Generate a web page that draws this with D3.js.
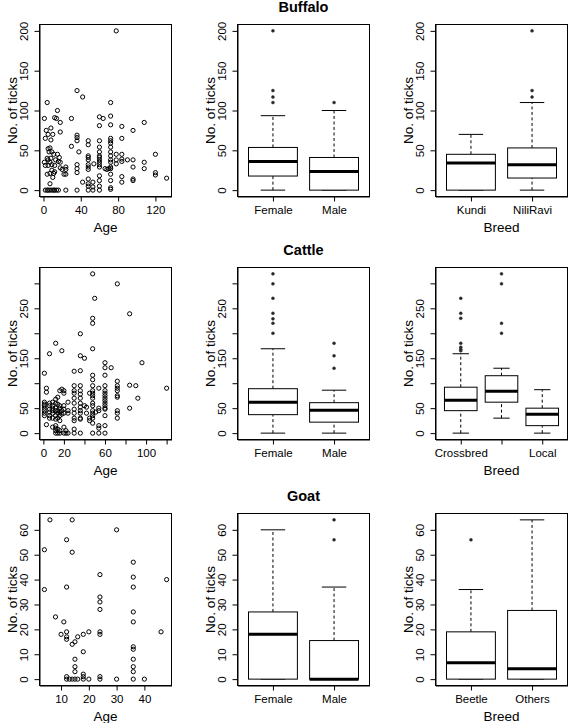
<!DOCTYPE html>
<html><head><meta charset="utf-8">
<script src="https://cdn.jsdelivr.net/npm/d3@7"></script>
<style>
body{margin:0;background:#fff}
svg{display:block}
text{font-family:"Liberation Sans",Arial,Helvetica,sans-serif;fill:#000}
</style>
</head><body>
<svg id="chart" width="568" height="723"></svg>
<script>
// ---------------- DATA ----------------
const species = ["Buffalo", "Cattle", "Goat"];
const yAxisTitle = "No. of ticks";
const ageTitle = "Age";
const breedTitle = "Breed";

// scatter: [age, number of ticks]
const buffaloPoints = [
  [4,110],[15,100],[12,91],[14,90],[1,90],[18,85],[8,78],[3,75],[18,73],[5,70],[10,70],[2,65],[8,63],
  [30,55],[5,52],[7,53],[6,48],[9,48],[38,48],[11,45],[15,45],[4,40],[5,38],[8,40],[13,38],[17,41],
  [1,35],[7,35],[16,36],[18,35],[2,31],[5,31],[9,32],[12,31],[18,28],[24,29],[20,26],[24,26],[9,25],
  [12,23],[4,20],[7,21],[11,21],[22,20],[24,20],[10,16],[7,8],
  [2,0],[4,0],[5,0],[7,0],[9,0],[11,0],[12,0],[14,0],[16,0],[24,0],
  [30,90],[36,125],[36,69],[36,66],[36,62],[36,32],[36,27],[36,22],[36,0],
  [42,117],[42,10],
  [48,62],[48,57],[48,43],[48,41],[48,38],[48,32],[48,29],[48,26],[48,14],[48,8],[48,5],[48,0],
  [53,10],[53,4],[53,0],[54,33],
  [60,92],[60,81],[60,62],[60,54],[60,48],[60,43],[60,41],[60,38],[60,35],[60,32],[60,29],[60,18],[60,12],[60,5],[60,0],
  [64,90],[66,27],[68,26],
  [72,110],[72,93],[72,82],[72,65],[72,62],[72,59],[72,54],[72,48],[72,43],[72,38],[72,35],[72,29],[72,27],[72,20],[72,12],[72,3],[72,1],[70,27],
  [78,200],[78,45],[78,38],[78,33],
  [84,80],[84,65],[84,45],[84,39],[84,36],[84,17],[84,10],
  [90,38],
  [96,75],[96,38],[96,29],[96,14],[96,12],
  [108,85],[108,35],[108,27],
  [120,45],[120,22],[120,19],
  [132,15]
];

const cattlePoints = [
  [1,120],[1,62],[1,58],[1,55],[1,50],[1,45],[1,40],[1,35],
  [3,90],[3,82],[3,17],
  [6,159],[6,60],[6,55],[6,48],[6,42],[6,35],[6,30],
  [9,62],[9,55],[9,50],[9,45],[9,40],[9,30],[9,12],
  [12,180],[12,68],[12,60],[12,50],[12,45],[12,35],[12,28],[12,15],[12,10],[12,5],[12,0],
  [14,72],[14,58],[14,45],[14,40],[14,30],[14,8],[14,0],
  [16,85],[16,55],[16,50],[16,42],[16,35],[16,25],[16,5],[16,0],
  [18,165],[18,88],[18,45],[18,38],
  [20,85],[20,80],[20,55],[20,48],[20,40],[20,12],[20,0],
  [22,0],[22,5],
  [24,62],[24,45],[24,40],[24,0],
  [30,124],[30,95],[30,85],[30,80],[30,70],[30,60],[30,48],[30,40],[30,30],[30,25],[30,8],[30,0],
  [36,199],[36,155],[36,125],[36,95],[36,85],[36,78],[36,70],[36,60],[36,52],[36,45],[36,40],[36,30],[36,28],[36,0],
  [40,150],[40,55],[42,52],[42,40],[45,80],[45,30],[45,25],
  [48,319],[48,230],[48,220],[48,169],[48,116],[48,107],[48,95],[48,85],[48,80],[48,75],[48,70],[48,60],[48,55],[48,45],[48,40],[48,35],[48,30],[48,20],[48,0],
  [50,270],[51,42],
  [54,90],[54,50],[54,45],[54,15],[54,10],[54,0],
  [60,141],[60,131],[60,116],[60,95],[60,85],[60,80],[60,75],[60,70],[60,65],[60,60],[60,55],[60,50],[60,48],[60,35],[60,15],[60,0],
  [66,131],
  [72,299],[72,104],[72,95],[72,90],[72,85],[72,75],[72,72],[72,45],[72,40],[72,30],
  [84,239],[84,96],[84,50],[90,95],[92,70],[96,141],[120,90]
];

const goatPoints = [
  [4,52],[4,36],[6,64],[8,25],[10,18],[11,23],
  [12,56],[12,37],[12,19],[12,17],[12,16],[12,1],[12,0],[13,0],
  [14,64],[14,51],[14,14],[14,0],[15,0],[15,15],[15,8],[15,5],[15,3],
  [16,0],[16,17],[18,18],[18,11],[18,2],[18,1],[18,0],[20,19],[20,0],
  [24,42],[24,33],[24,31],[24,28],[24,19],[24,18],[24,1],[24,0],
  [30,60],[30,0],
  [36,47],[36,41],[36,37],[36,27],[36,23],[36,13],[36,12],[36,8],[36,5],[36,3],[36,0],
  [40,0],[46,19],[48,40]
];

// box plot groups and five-number summaries [lower whisker, Q1, median, Q3, upper whisker]
const sexGroups = ["Female", "Male"];
const buffaloBreeds = ["Kundi", "NiliRavi"];
const cattleBreedLabels = ["Crossbred", "", "Local"];   // middle label not printed (overlap)
const goatBreeds = ["Beetle", "Others"];

const buffaloSexStats = [[0,17.7,36,53.6,93.5],[0,0,23.5,41,100]];
const buffaloSexOutliers = [[110,117,125,200],[110]];
const buffaloBreedStats = [[0,0,34,45,70],[0,15.2,32,53,110]];
const buffaloBreedOutliers = [[],[117,125,200]];

const cattleSexStats = [[0,37,62,89,169],[0,22,46,61,86]];
const cattleSexOutliers = [[200,220,229,240,270,299,319],[130,155,180]];
const cattleBreedStats = [[0,45,66,92,159],[30,62,84,115,130],[0,15,38,50,87]];
const cattleBreedOutliers = [[165,168,172,180,230,240,270],[200,220,299,319],[]];

const goatSexStats = [[0,0,18,27,60],[0,0,0,15.5,37]];
const goatSexOutliers = [[],[56,64]];
const goatBreedStats = [[0,0,6.6,19,36],[0,0,4.2,27.6,64]];
const goatBreedOutliers = [[56],[]];

// axis ticks
const buffaloYTicks = [0,50,100,150,200];
const buffaloYLabels = ["0","50","100","150","200"];
const buffaloXTicks = [0,40,80,120];
const buffaloXLabels = ["0","40","80","120"];
const cattleYTicks = [0,50,100,150,200,250,300];
const cattleYLabels = ["0","50","","150","","250",""];
const cattleXTicks = [0,20,40,60,80,100,120];
const cattleXLabels = ["0","20","","60","","100",""];
const goatYTicks = [0,10,20,30,40,50,60];
const goatYLabels = ["0","10","20","30","40","50","60"];
const goatXTicks = [10,20,30,40];
const goatXLabels = ["10","20","30","40"];

// ---------------- LAYOUT ----------------
const colLeft = [39.5, 237.5, 435.5];
const rowTop = [24.5, 267.5, 513.5];
const plotW = 132, plotH = 172;
const tickFont = "11.5px", labFont = "13.5px", titleFont = "14.5px";

const svg = d3.select("#chart");

function pad(lo, hi){ const d = (hi - lo) * 0.04; return [lo - d, hi + d]; }

function frame(r, c, x, y, xTicks, xLabels, yTicks, yLabels, xTitle){
  const g = svg.append("g").attr("transform", `translate(${colLeft[c]},${rowTop[r]})`);
  const ax = g.append("g").attr("transform", `translate(0,${plotH})`)
    .call(d3.axisBottom(x).tickValues(xTicks).tickFormat((d,i)=>xLabels[i]).tickSizeInner(5).tickSizeOuter(0).tickPadding(3));
  ax.selectAll("text").attr("font-size", tickFont).attr("dy", null).attr("y", 17);
  ax.selectAll("line, path").attr("stroke", "#000");
  ax.attr("font-size", null).attr("font-family", null);
  const ay = g.append("g")
    .call(d3.axisLeft(y).tickValues(yTicks).tickFormat((d,i)=>yLabels[i]).tickSizeInner(5).tickSizeOuter(0));
  ay.selectAll("text").attr("font-size", tickFont).attr("dy", null).attr("x", 0).attr("y", -12)
    .attr("text-anchor", "middle").attr("transform", "rotate(-90)");
  ay.selectAll("line, path").attr("stroke", "#000");
  ay.attr("font-size", null).attr("font-family", null);
  g.append("rect").attr("x", 0).attr("y", 0).attr("width", plotW).attr("height", plotH)
    .attr("fill", "none").attr("stroke", "#000").attr("stroke-width", 1);
  g.append("text").attr("transform", `translate(-23,${plotH/2}) rotate(-90)`)
    .attr("text-anchor", "middle").attr("font-size", labFont).text(yAxisTitle);
  if (xTitle) {
    g.append("text").attr("x", plotW/2).attr("y", plotH + 35)
      .attr("text-anchor", "middle").attr("font-size", labFont).text(xTitle);
  }
  return g;
}

function scatter(r, points, xTicks, xLabels, yTicks, yLabels){
  const x = d3.scaleLinear().domain(pad(d3.min(points, d=>d[0]), d3.max(points, d=>d[0]))).range([0, plotW]);
  const y = d3.scaleLinear().domain(pad(d3.min(points, d=>d[1]), d3.max(points, d=>d[1]))).range([plotH, 0]);
  const g = frame(r, 0, x, y, xTicks, xLabels, yTicks, yLabels, ageTitle);
  g.append("g").selectAll("circle").data(points).join("circle")
    .attr("cx", d=>x(d[0])).attr("cy", d=>y(d[1])).attr("r", 2.1)
    .attr("fill", "none").attr("stroke", "#000").attr("stroke-width", 1);
}

function boxplot(r, c, labels, stats, outliers, yDomain, yTicks, yLabels, xTitle){
  const n = labels.length;
  const x = d3.scaleLinear().domain(pad(0.5, n + 0.5)).range([0, plotW]);
  const y = d3.scaleLinear().domain(pad(yDomain[0], yDomain[1])).range([plotH, 0]);
  const idx = d3.range(1, n + 1);
  const g = frame(r, c, x, y, idx, labels, yTicks, yLabels, xTitle);
  const hw = x(1.4) - x(1);
  stats.forEach((s, i) => {
    const cx = x(i + 1);
    const bg = g.append("g");
    bg.append("line").attr("x1", cx).attr("x2", cx).attr("y1", y(s[3])).attr("y2", y(s[4]))
      .attr("stroke", "#000").attr("stroke-dasharray", "3,2.5");
    bg.append("line").attr("x1", cx).attr("x2", cx).attr("y1", y(s[0])).attr("y2", y(s[1]))
      .attr("stroke", "#000").attr("stroke-dasharray", "3,2.5");
    [s[0], s[4]].forEach(v => bg.append("line").attr("x1", cx - hw/2).attr("x2", cx + hw/2)
      .attr("y1", y(v)).attr("y2", y(v)).attr("stroke", "#000"));
    bg.append("rect").attr("x", cx - hw).attr("width", 2*hw)
      .attr("y", y(s[3])).attr("height", y(s[1]) - y(s[3]))
      .attr("fill", "#fff").attr("stroke", "#000").attr("stroke-width", 1);
    bg.append("line").attr("x1", cx - hw).attr("x2", cx + hw).attr("y1", y(s[2])).attr("y2", y(s[2]))
      .attr("stroke", "#000").attr("stroke-width", 3);
    bg.selectAll("circle").data(outliers[i]).join("circle")
      .attr("cx", cx).attr("cy", d=>y(d)).attr("r", 1.5).attr("fill", "#222").attr("stroke", "#444").attr("stroke-width", 0.5);
  });
}

function title(r, txt){
  svg.append("text").attr("x", colLeft[1] + plotW/2).attr("y", rowTop[r] - 12.5)
    .attr("text-anchor", "middle").attr("font-size", titleFont).attr("font-weight", "bold").text(txt);
}

// ---------------- DRAW ----------------
const buffaloDom = d3.extent(buffaloPoints, d=>d[1]);
const cattleDom = d3.extent(cattlePoints, d=>d[1]);
const goatDom = d3.extent(goatPoints, d=>d[1]);

scatter(0, buffaloPoints, buffaloXTicks, buffaloXLabels, buffaloYTicks, buffaloYLabels);
boxplot(0, 1, sexGroups, buffaloSexStats, buffaloSexOutliers, buffaloDom, buffaloYTicks, buffaloYLabels, null);
boxplot(0, 2, buffaloBreeds, buffaloBreedStats, buffaloBreedOutliers, buffaloDom, buffaloYTicks, buffaloYLabels, breedTitle);
title(0, species[0]);

scatter(1, cattlePoints, cattleXTicks, cattleXLabels, cattleYTicks, cattleYLabels);
boxplot(1, 1, sexGroups, cattleSexStats, cattleSexOutliers, cattleDom, cattleYTicks, cattleYLabels, null);
boxplot(1, 2, cattleBreedLabels, cattleBreedStats, cattleBreedOutliers, cattleDom, cattleYTicks, cattleYLabels, breedTitle);
title(1, species[1]);

scatter(2, goatPoints, goatXTicks, goatXLabels, goatYTicks, goatYLabels);
boxplot(2, 1, sexGroups, goatSexStats, goatSexOutliers, goatDom, goatYTicks, goatYLabels, null);
boxplot(2, 2, goatBreeds, goatBreedStats, goatBreedOutliers, goatDom, goatYTicks, goatYLabels, breedTitle);
title(2, species[2]);
</script>
</body></html>
